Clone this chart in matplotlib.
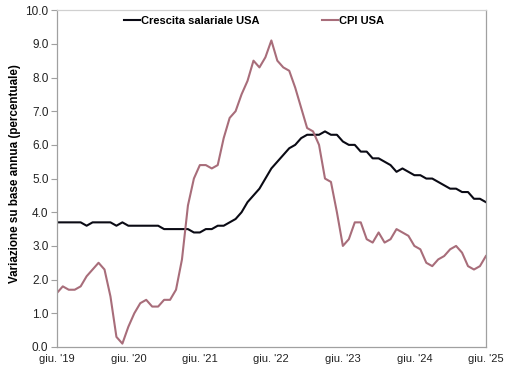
import numpy as np
import matplotlib
matplotlib.use("Agg")
import matplotlib.pyplot as plt

plt.rcParams['font.family'] = ['Liberation Sans', 'DejaVu Sans']

# Monthly data, giugno 2019 -> giugno 2025 (73 months)
wage_growth = [
    3.7, 3.7, 3.7, 3.7, 3.7, 3.6, 3.7,                          # 2019 giu-dic
    3.7, 3.7, 3.7, 3.6, 3.7, 3.6, 3.6, 3.6, 3.6, 3.6, 3.6, 3.5,  # 2020
    3.5, 3.5, 3.5, 3.5, 3.4, 3.4, 3.5, 3.5, 3.6, 3.6, 3.7, 3.8,  # 2021
    4.0, 4.3, 4.5, 4.7, 5.0, 5.3, 5.5, 5.7, 5.9, 6.0, 6.2, 6.3,  # 2022
    6.3, 6.3, 6.4, 6.3, 6.3, 6.1, 6.0, 6.0, 5.8, 5.8, 5.6, 5.6,  # 2023
    5.5, 5.4, 5.2, 5.3, 5.2, 5.1, 5.1, 5.0, 5.0, 4.9, 4.8, 4.7,  # 2024
    4.7, 4.6, 4.6, 4.4, 4.4, 4.3,                               # 2025 gen-giu
]
cpi = [
    1.6, 1.8, 1.7, 1.7, 1.8, 2.1, 2.3,
    2.5, 2.3, 1.5, 0.3, 0.1, 0.6, 1.0, 1.3, 1.4, 1.2, 1.2, 1.4,
    1.4, 1.7, 2.6, 4.2, 5.0, 5.4, 5.4, 5.3, 5.4, 6.2, 6.8, 7.0,
    7.5, 7.9, 8.5, 8.3, 8.6, 9.1, 8.5, 8.3, 8.2, 7.7, 7.1, 6.5,
    6.4, 6.0, 5.0, 4.9, 4.0, 3.0, 3.2, 3.7, 3.7, 3.2, 3.1, 3.4,
    3.1, 3.2, 3.5, 3.4, 3.3, 3.0, 2.9, 2.5, 2.4, 2.6, 2.7, 2.9,
    3.0, 2.8, 2.4, 2.3, 2.4, 2.7,
]
tick_labels = ["giu. '19", "giu. '20", "giu. '21", "giu. '22", "giu. '23", "giu. '24", "giu. '25"]

months = np.arange(len(cpi))

fig = plt.figure(figsize=(5.12, 3.71), dpi=100)
ax = fig.add_axes([0.111, 0.0647, 0.838, 0.908])

ax.plot(months, wage_growth, color='#0a0a14', lw=1.5, label='Crescita salariale USA')
ax.plot(months, cpi, color='#a86d7a', lw=1.5, label='CPI USA')

ax.set_xlim(0, 72)
ax.set_ylim(0, 10)
ax.set_xticks(np.arange(0, 73, 12))
ax.set_xticklabels(tick_labels)
ax.set_yticks(np.arange(0, 10.5, 1.0))
ax.set_yticklabels([f"{v:.1f}" for v in np.arange(0, 10.5, 1.0)])
ax.tick_params(axis='x', length=0, pad=5, labelsize=8, colors='#222222')
ax.tick_params(axis='y', length=4, width=0.8, color='#a0a0a0', pad=2, labelsize=8.5, labelcolor='#222222')

for side in ['left', 'bottom', 'right']:
    ax.spines[side].set_color('#a0a0a0')
    ax.spines[side].set_linewidth(0.9)
ax.spines['top'].set_color('#d0d0d0')
ax.spines['top'].set_linewidth(0.9)

ax.set_ylabel('Variazione su base annua (percentuale)', fontsize=8.4, fontweight='bold')
ax.yaxis.set_label_coords(-0.084, 0.515)

ax.legend(loc='upper center', bbox_to_anchor=(0.46, 1.012), ncol=2, frameon=False,
          prop={'weight': 'bold', 'size': 8}, handlelength=1.4, handletextpad=0.15,
          columnspacing=5.6)

fig.savefig('out.png', dpi=100)
